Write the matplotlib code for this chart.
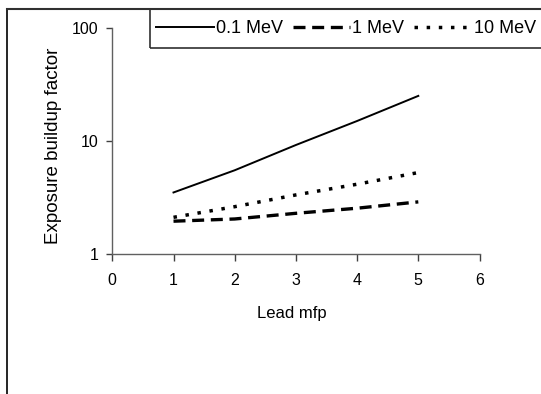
import matplotlib
matplotlib.use("Agg")
import matplotlib.pyplot as plt
from matplotlib.patches import Rectangle
from matplotlib.lines import Line2D

plt.rcParams['font.family'] = ['Liberation Sans', 'DejaVu Sans']
plt.rcParams['font.size'] = 11.5

# Buildup factors in lead, read per mean free path
mfp = [1, 2, 3, 4, 5]
b_01mev = [3.5, 5.5, 9.2, 15.0, 25.0]
b_1mev = [1.95, 2.04, 2.29, 2.54, 2.89]
b_10mev = [2.11, 2.62, 3.33, 4.14, 5.25]

W, H = 541, 394
fig = plt.figure(figsize=(W / 100, H / 100), dpi=100)

def px(x, y):
    return x / W, 1 - y / H

# outer frame (only the left and top edges fall inside the image)
fig.add_artist(Line2D([7.3 / W, 7.3 / W], [0, 1 - 8.8 / H], color='black', lw=1.2))
fig.add_artist(Line2D([7.3 / W, 1], [1 - 8.8 / H, 1 - 8.8 / H], color='#303030', lw=1.5))

left, top = px(112.3, 27.8)
right, bottom = px(479.5, 254)
ax = fig.add_axes([left, bottom, right - left, top - bottom])

ax.plot(mfp, b_01mev, color='black', lw=1.4, label='0.1 MeV')
ax.plot(mfp, b_1mev, color='black', lw=2.4, linestyle=(0, (3.6, 2.0)), label='1 MeV')
ax.plot(mfp, b_10mev, color='black', lw=2.5, linestyle=(0, (1, 2.5)), label='10 MeV')

ax.set_yscale('log')
ax.set_ylim(1, 100)
ax.set_xlim(0, 6)
ax.set_yticks([1, 10, 100])
ax.set_yticklabels(['1', '10', '100'])
ax.yaxis.set_minor_locator(matplotlib.ticker.NullLocator())
ax.set_xticks(range(0, 7))

for s in ['top', 'right']:
    ax.spines[s].set_visible(False)
for s in ['left', 'bottom']:
    ax.spines[s].set_color('#606060')
    ax.spines[s].set_linewidth(1)

ax.tick_params(axis='y', direction='out', length=4, width=1, pad=6, color='#404040')
ax.tick_params(axis='x', direction='out', length=5, width=1, pad=9, color='#404040')

ax.set_xlabel('Lead mfp', fontsize=12)
ax.set_ylabel('Exposure buildup factor', fontsize=13.5)
ax.xaxis.set_label_coords(0.489, -0.232)
ax.yaxis.set_label_coords(-0.137, 0.48)

# legend box running off the right edge
fig.add_artist(Rectangle(px(150, 48), (560 - 150) / W, 39 / H, fill=False,
                         edgecolor='#303030', lw=1.2, transform=fig.transFigure))
fig.legend(loc='center left', bbox_to_anchor=px(156, 28.5), ncol=3, frameon=False,
           fontsize=13, handlelength=3.2, handletextpad=0.1, columnspacing=0.55,
           borderaxespad=0, borderpad=0)

fig.savefig('out.png', dpi=100)
